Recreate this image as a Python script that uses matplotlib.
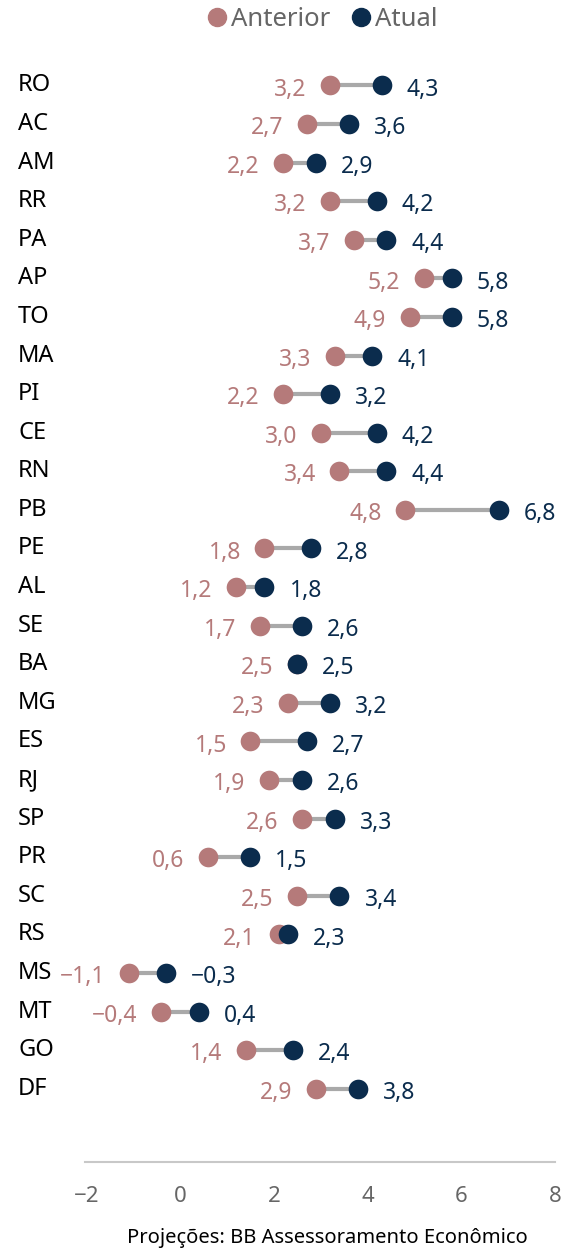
import matplotlib
matplotlib.use("Agg")
import matplotlib.pyplot as plt
from matplotlib.transforms import blended_transform_factory
from matplotlib.lines import Line2D

plt.rcParams['font.family'] = ['Noto Sans', 'DejaVu Sans']

states = ["RO", "AC", "AM", "RR", "PA", "AP", "TO", "MA", "PI", "CE", "RN", "PB", "PE",
          "AL", "SE", "BA", "MG", "ES", "RJ", "SP", "PR", "SC", "RS", "MS", "MT", "GO", "DF"]
anterior = [3.2, 2.7, 2.2, 3.2, 3.7, 5.2, 4.9, 3.3, 2.2, 3.0, 3.4, 4.8, 1.8,
            1.2, 1.7, 2.5, 2.3, 1.5, 1.9, 2.6, 0.6, 2.5, 2.1, -1.1, -0.4, 1.4, 2.9]
atual = [4.3, 3.6, 2.9, 4.2, 4.4, 5.8, 5.8, 4.1, 3.2, 4.2, 4.4, 6.8, 2.8,
         1.8, 2.6, 2.5, 3.2, 2.7, 2.6, 3.3, 1.5, 3.4, 2.3, -0.3, 0.4, 2.4, 3.8]
xticks = [-2, 0, 2, 4, 6, 8]

C_ANT = "#b57a7a"
C_ATU = "#0b2c4d"
C_LINE = "#a9a9a9"
C_GRAY = "#666666"

W, H = 571, 1253
fig = plt.figure(figsize=(W / 100, H / 100), dpi=100)
ax = fig.add_axes([85 / W, 1 - 1162 / H, (555 - 85) / W, (1162 - 60) / H])

ypos = list(range(len(states)))
ax.hlines(ypos, anterior, atual, color=C_LINE, lw=3, zorder=1)
ax.scatter(anterior, ypos, s=200, color=C_ANT, zorder=2, linewidths=0)
ax.scatter(atual, ypos, s=200, color=C_ATU, zorder=3, linewidths=0)

def fmt(v):
    return f"{v:.1f}".replace(".", ",").replace("-", "\u2212")

for y, a, b in zip(ypos, anterior, atual):
    lo_left = a <= b
    ax.annotate(fmt(a), (a, y), xytext=(-17 if lo_left else 17, -3), textcoords="offset points",
                ha="right" if lo_left else "left", va="center", color=C_ANT, fontsize=16.5)
    ax.annotate(fmt(b), (b, y), xytext=(18 if lo_left else -18, -3), textcoords="offset points",
                ha="left" if lo_left else "right", va="center", color=C_ATU, fontsize=16.5)

trans = blended_transform_factory(fig.transFigure, ax.transData)
for y, s in zip(ypos, states):
    ax.text(18 / W, y, s, transform=trans, ha="left", va="center", fontsize=17, color="black")

ax.set_xlim(-2.03, 8.0)
ax.set_ylim(27.9, -0.66)
ax.set_xticks(xticks)
ax.set_xticklabels([str(t).replace("-", "\u2212") for t in xticks], color=C_GRAY, fontsize=16)
ax.tick_params(axis="x", length=0, pad=17)
ax.set_yticks([])
for sp in ["top", "left", "right"]:
    ax.spines[sp].set_visible(False)
ax.spines["bottom"].set_color("#c8c8c8")
ax.spines["bottom"].set_linewidth(1.5)

handles = [Line2D([], [], marker="o", ls="", color=C_ANT, markersize=13, label="Anterior"),
           Line2D([], [], marker="o", ls="", color=C_ATU, markersize=13, label="Atual")]
leg = fig.legend(handles=handles, loc="center", bbox_to_anchor=(322 / W, 1 - 19 / H), ncol=2,
                 frameon=False, fontsize=18.5, handletextpad=0.15, columnspacing=0.8, handlelength=0.8)
for t in leg.get_texts():
    t.set_color(C_GRAY)

fig.text(327 / W, 1 - 1238 / H, "Projeções: BB Assessoramento Econômico", ha="center", va="center",
         fontsize=14.5, color="black")

fig.savefig("out.png", dpi=100)
